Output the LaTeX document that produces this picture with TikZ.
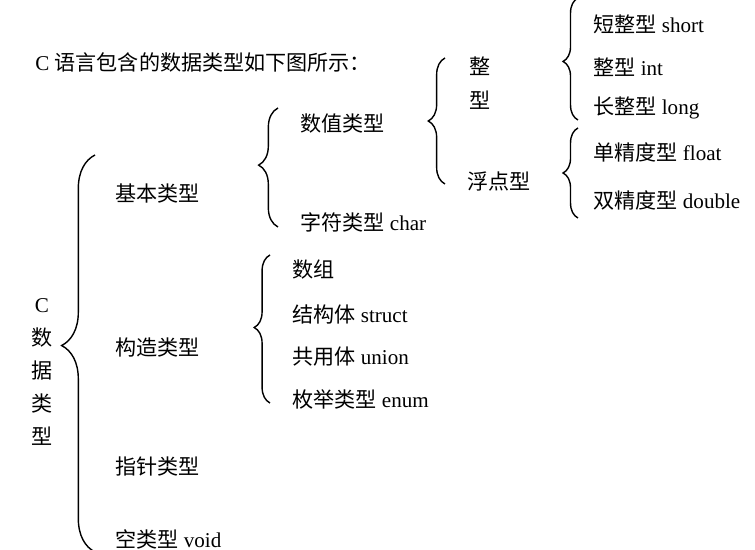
\documentclass[tikz,border=0pt]{standalone}
\usepackage{fontspec}
\setmainfont{Liberation Serif}
\newfontfamily\cjk{Noto Sans CJK SC}
\newcommand{\zh}[1]{{\cjk #1}}
\usetikzlibrary{decorations.pathreplacing}
\tikzset{
    kind/.style={anchor=west, inner sep=0pt},
    curly/.style 2 args={decorate, decoration={brace, amplitude=#1, aspect=#2}, line width=0.8pt},
}
\begin{document}
\begin{tikzpicture}[x=0.02cm, y=-0.02cm, font=\fontsize{12}{14}\selectfont]
        \useasboundingbox (0,0) rectangle (755,550);
        \clip (0,0) rectangle (755,550);
        \node[kind] (intro) at (35,62) {C \zh{语言包含的数据类型如下图所示：}};
        \begin{scope}
            \node[align=center, inner sep=0pt, font=\fontsize{12}{18.8}\selectfont] (ctype) at (42,372) {C\\\zh{数}\\\zh{据}\\\zh{类}\\\zh{型}};
            \draw[curly={19pt}{0.52}] (95,552) -- (95,155);
            \node[kind] (basic) at (115,193) {\zh{基本类型}};
            \node[kind] (built) at (115,348) {\zh{构造类型}};
            \node[kind] (pointer) at (115,466) {\zh{指针类型}};
            \node[kind] (empty) at (115,539) {\zh{空类型} void};
        \end{scope}
        \begin{scope}
            \draw[curly={11pt}{0.52}] (278,227) -- (278,108);
            \node[kind] (numeric) at (300,124) {\zh{数值类型}};
            \node[kind] (char) at (300,222) {\zh{字符类型} char};
            \draw[curly={9pt}{0.51}] (270,403) -- (270,255);
            \node[kind] (array) at (292,270) {\zh{数组}};
            \node[kind] (struct) at (292,314) {\zh{结构体} struct};
            \node[kind] (union) at (292,357) {\zh{共用体} union};
            \node[kind] (enum) at (292,399) {\zh{枚举类型} enum};
        \end{scope}
        \begin{scope}
            \draw[curly={9.5pt}{0.5}] (445,184) -- (445,58);
            \node[align=center, inner sep=0pt, font=\fontsize{12}{19.4}\selectfont] (integer) at (480,83) {\zh{整}\\\zh{型}};
            \node[kind] (floating) at (467,181) {\zh{浮点型}};
        \end{scope}
        \begin{scope}
            \draw[curly={8.5pt}{0.48}] (578,120) -- (578,-2);
            \node[kind] (short) at (593,24) {\zh{短整型} short};
            \node[kind] (int) at (593,67) {\zh{整型} int};
            \node[kind] (long) at (593,108) {\zh{长整型} long};
            \draw[curly={8.5pt}{0.5}] (578,218) -- (578,128);
            \node[kind] (float) at (593,152) {\zh{单精度型} float};
            \node[kind] (double) at (593,200) {\zh{双精度型} double};
        \end{scope}
\end{tikzpicture}
\end{document}
